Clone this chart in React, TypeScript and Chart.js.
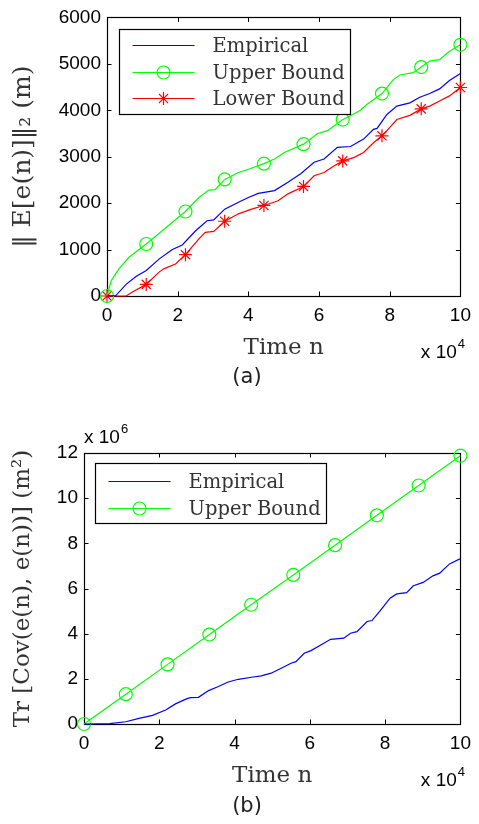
import React, { useEffect, useRef } from "react";
import { Chart, registerables } from "chart.js";

Chart.register(...registerables);

// ---------- shared ticks ----------
const xTicks = [0, 2, 4, 6, 8, 10];
const yTicksA = [0, 1000, 2000, 3000, 4000, 5000, 6000];
const yTicksB = [0, 2, 4, 6, 8, 10, 12];
const markerX = [0, 1.11, 2.22, 3.33, 4.44, 5.56, 6.67, 7.78, 8.89, 10];

// ---------- chart (a): ||E[e(n)]||_2 ----------
const empAX = [0, 0.25, 0.54, 0.82, 1.11, 1.48, 1.85, 2.13, 2.5, 2.83, 3.02, 3.33, 3.72, 4.0, 4.28, 4.74, 5.12, 5.49, 5.86, 6.14, 6.52, 6.89, 7.26, 7.54, 7.64, 7.92, 8.2, 8.57, 8.85, 9.13, 9.41, 9.69, 10];
const empAY = [0, 10, 250, 420, 550, 800, 1000, 1100, 1400, 1620, 1640, 1870, 2020, 2120, 2210, 2270, 2450, 2640, 2880, 2950, 3200, 3220, 3380, 3590, 3610, 3910, 4090, 4160, 4280, 4360, 4460, 4640, 4790];

const upAX = [0, 0.12, 0.35, 0.63, 0.87, 1.11, 1.57, 1.85, 2.22, 2.6, 2.88, 3.06, 3.33, 3.72, 4.0, 4.44, 4.74, 5.02, 5.56, 5.96, 6.24, 6.42, 6.67, 6.89, 7.17, 7.36, 7.78, 8.1, 8.29, 8.66, 8.89, 9.13, 9.41, 9.69, 10];
const upAY = [0, 330, 600, 840, 980, 1120, 1410, 1590, 1820, 2120, 2280, 2290, 2510, 2660, 2730, 2850, 2950, 3090, 3270, 3500, 3560, 3660, 3800, 3880, 4000, 4130, 4360, 4660, 4760, 4810, 4930, 5060, 5090, 5270, 5410];

const lowAX = [0, 0.54, 0.73, 1.11, 1.48, 1.62, 1.94, 2.22, 2.6, 2.78, 3.02, 3.33, 3.72, 4.09, 4.44, 4.84, 5.12, 5.56, 5.86, 6.14, 6.42, 6.67, 6.98, 7.26, 7.54, 7.78, 7.92, 8.2, 8.57, 8.89, 9.13, 9.41, 9.69, 10];
const lowAY = [0, 0, 90, 250, 520, 590, 690, 890, 1230, 1370, 1390, 1610, 1770, 1870, 1950, 2050, 2200, 2360, 2590, 2660, 2800, 2910, 2980, 3090, 3300, 3450, 3560, 3800, 3890, 4030, 4090, 4200, 4310, 4490];

// ---------- chart (b): Tr[Cov] (x 10^6) ----------
const empBX = [0, 0.68, 1.11, 1.46, 1.82, 2.17, 2.43, 2.69, 2.82, 3.04, 3.31, 3.57, 3.83, 4.1, 4.45, 4.71, 4.97, 5.24, 5.5, 5.63, 5.85, 6.03, 6.29, 6.55, 6.9, 7.08, 7.25, 7.52, 7.65, 7.87, 8.13, 8.31, 8.57, 8.75, 9.01, 9.27, 9.45, 9.71, 9.97, 10];
const empBY = [0, 0.02, 0.1, 0.25, 0.38, 0.62, 0.89, 1.09, 1.17, 1.18, 1.48, 1.66, 1.86, 1.98, 2.07, 2.13, 2.25, 2.47, 2.69, 2.76, 3.13, 3.25, 3.5, 3.75, 3.8, 4.02, 4.09, 4.54, 4.58, 5.02, 5.57, 5.76, 5.82, 6.12, 6.27, 6.56, 6.68, 7.09, 7.3, 7.3];

const upBX = [0, 1.11, 2.22, 3.33, 4.44, 5.56, 6.67, 7.78, 8.89, 10];
const upBY = [0, 1.32, 2.64, 3.96, 5.28, 6.6, 7.92, 9.24, 10.56, 11.88];

const labelsA = ["Empirical", "Upper Bound", "Lower Bound"];
const labelsB = ["Empirical", "Upper Bound"];

const BLUE = "#0000ff";
const GREEN = "#00ff00";
const RED = "#ff0000";
const TICK_FONT = "Liberation Sans";
const SERIF = "DejaVu Serif";
const TXT = "#333333";

const pts = (xs: number[], ys: number[]) => xs.map((x, i) => ({ x, y: ys[i] }));
const isMarker = (x: number) => markerX.some((m) => Math.abs(m - x) < 1e-6);

function series(label: string, xs: number[], ys: number[], color: string, style: any, withMarkers: boolean) {
  return {
    label,
    data: pts(xs, ys),
    borderColor: color,
    backgroundColor: "rgba(0,0,0,0)",
    borderWidth: 1.2,
    pointStyle: style,
    pointRadius: (ctx: any) => (withMarkers && ctx.raw && isMarker(ctx.raw.x) ? 6.5 : 0),
    pointBorderColor: color,
    pointBackgroundColor: "rgba(0,0,0,0)",
    pointBorderWidth: 1.2,
    tension: 0,
    clip: false,
  };
}

function drawMarker(ctx: CanvasRenderingContext2D, style: string | false, x: number, y: number, color: string) {
  if (!style) return;
  ctx.save();
  ctx.strokeStyle = color;
  ctx.lineWidth = 1.2;
  const r = 6.5;
  ctx.beginPath();
  if (style === "circle") {
    ctx.arc(x, y, r, 0, Math.PI * 2);
  } else if (style === "star") {
    for (let k = 0; k < 4; k++) {
      const a = (k * Math.PI) / 4;
      ctx.moveTo(x - r * Math.cos(a), y - r * Math.sin(a));
      ctx.lineTo(x + r * Math.cos(a), y + r * Math.sin(a));
    }
  }
  ctx.stroke();
  ctx.restore();
}

const framePlugin = {
  id: "matlabFrame",
  beforeDatasetsDraw(chart: any) {
    const { ctx, chartArea: a } = chart;
    ctx.save();
    ctx.strokeStyle = "#000";
    ctx.lineWidth = 1;
    const tl = 4.5;
    const xs = chart.scales.x;
    const ys = chart.scales.y;
    ctx.beginPath();
    xs.ticks.forEach((t: any) => {
      const px = Math.round(xs.getPixelForValue(t.value)) + 0.5;
      ctx.moveTo(px, a.bottom);
      ctx.lineTo(px, a.bottom - tl);
      ctx.moveTo(px, a.top);
      ctx.lineTo(px, a.top + tl);
    });
    ys.ticks.forEach((t: any) => {
      const py = Math.round(ys.getPixelForValue(t.value)) + 0.5;
      ctx.moveTo(a.left, py);
      ctx.lineTo(a.left + tl, py);
      ctx.moveTo(a.right, py);
      ctx.lineTo(a.right - tl, py);
    });
    ctx.stroke();
    ctx.lineWidth = 1.2;
    ctx.strokeRect(Math.round(a.left) + 0.5, Math.round(a.top) + 0.5, Math.round(a.right - a.left), Math.round(a.bottom - a.top));
    ctx.restore();
  },
  afterDatasetsDraw(chart: any, _args: any, opts: any) {
    const { ctx, chartArea: a } = chart;
    ctx.save();
    // legend
    const L = opts.legend;
    const bx = Math.round(a.left + L.dx) + 0.5;
    const by = Math.round(a.top + L.dy) + 0.5;
    ctx.fillStyle = "#fff";
    ctx.fillRect(bx, by, L.w, L.h);
    ctx.strokeStyle = "#000";
    ctx.lineWidth = 1.2;
    ctx.strokeRect(bx, by, L.w, L.h);
    chart.data.datasets.forEach((ds: any, i: number) => {
      const y = by + L.rows[i];
      ctx.strokeStyle = ds.borderColor;
      ctx.lineWidth = 1.2;
      ctx.beginPath();
      ctx.moveTo(bx + 13, y);
      ctx.lineTo(bx + 75, y);
      ctx.stroke();
      drawMarker(ctx, L.markers[i], bx + 44, y, ds.borderColor);
      ctx.fillStyle = TXT;
      ctx.font = `19.5px "${SERIF}"`;
      ctx.textAlign = "left";
      ctx.textBaseline = "middle";
      ctx.fillText(ds.label, bx + 93, y + 1);
    });

    // exponent labels
    ctx.fillStyle = "#000";
    ctx.textBaseline = "alphabetic";
    (opts.exps || []).forEach((e: any) => {
      const base = "x 10";
      ctx.font = `13px "${TICK_FONT}"`;
      const supW = ctx.measureText(e.sup).width;
      ctx.font = `19px "${TICK_FONT}"`;
      const baseW = ctx.measureText(base).width;
      const x0 = e.align === "right" ? e.x - supW - baseW : e.x;
      ctx.fillText(base, x0, e.y);
      ctx.font = `13px "${TICK_FONT}"`;
      ctx.fillText(e.sup, x0 + baseW + 1, e.y - 10);
    });

    // caption
    ctx.font = `21px "DejaVu Sans"`;
    ctx.fillStyle = "#222";
    ctx.textAlign = "center";
    ctx.textBaseline = "middle";
    ctx.fillText(opts.caption.text, opts.caption.x, opts.caption.y);
    ctx.restore();
  },
};

function makeConfig(p: any) {
  return {
    type: "line",
    data: { datasets: p.datasets },
    plugins: [framePlugin],
    options: {
      responsive: false,
      maintainAspectRatio: false,
      animation: false,
      events: [],
      layout: { padding: { left: 0, right: p.padRight, top: p.padTop, bottom: 0 } },
      plugins: {
        legend: { display: false },
        tooltip: { enabled: false },
        title: { display: false },
        matlabFrame: { legend: p.legend, exps: p.exps, caption: p.caption },
      },
      scales: {
        x: {
          type: "linear",
          min: 0,
          max: 10,
          afterBuildTicks: (s: any) => {
            s.ticks = xTicks.map((v) => ({ value: v }));
          },
          afterFit: (s: any) => {
            s.height = p.xHeight;
          },
          grid: { display: false, drawTicks: false },
          border: { display: false },
          ticks: {
            color: "#000",
            font: { family: TICK_FONT, size: 19 },
            padding: 8,
            maxRotation: 0,
            autoSkip: false,
            callback: (v: any) => String(v),
          },
          title: {
            display: true,
            text: "Time n",
            color: TXT,
            font: { family: SERIF, size: 23 },
            padding: { top: 0, bottom: p.xTitlePad },
          },
        },
        y: {
          type: "linear",
          min: p.yTicks[0],
          max: p.yTicks[p.yTicks.length - 1],
          afterBuildTicks: (s: any) => {
            s.ticks = p.yTicks.map((v: number) => ({ value: v }));
          },
          afterFit: (s: any) => {
            s.width = p.yWidth;
          },
          grid: { display: false, drawTicks: false },
          border: { display: false },
          ticks: {
            color: "#000",
            font: { family: TICK_FONT, size: 19 },
            padding: 6,
            autoSkip: false,
            callback: (v: any) => String(v),
          },
          title: {
            display: true,
            text: p.yTitle,
            color: TXT,
            font: { family: SERIF, size: p.yTitleSize },
            padding: { top: p.yTitlePad, bottom: 0 },
          },
        },
      },
    },
  };
}

function ChartCanvas({ config, width, height, top }: any) {
  const ref = useRef<HTMLCanvasElement | null>(null);
  useEffect(() => {
    if (!ref.current) return;
    const chart = new Chart(ref.current, config);
    return () => chart.destroy();
  }, []);
  return (
    <canvas
      ref={ref}
      width={width}
      height={height}
      style={{ position: "absolute", left: 0, top, width, height, display: "block" }}
    />
  );
}

export default function App() {
  const cfgA = makeConfig({
    datasets: [
      series(labelsA[0], empAX, empAY, BLUE, false, false),
      series(labelsA[1], upAX, upAY, GREEN, "circle", true),
      series(labelsA[2], lowAX, lowAY, RED, "star", true),
    ],
    padRight: 15,
    padTop: 16,
    xHeight: 104,
    yWidth: 107,
    xTitlePad: 38,
    yTicks: yTicksA,
    yTitle: "‖ E[e(n)]‖₂ (m)",
    yTitleSize: 25,
    yTitlePad: 8,
    legend: { dx: 12, dy: 12, w: 231, h: 85, rows: [16, 43, 69], markers: [false, "circle", "star"] },
    exps: [{ x: 464, y: 358, sup: "4", align: "right" }],
    caption: { text: "(a)", x: 247, y: 378 },
  });
  const cfgB = makeConfig({
    datasets: [
      series(labelsB[0], empBX, empBY, BLUE, false, false),
      series(labelsB[1], upBX, upBY, GREEN, "circle", true),
    ],
    padRight: 15,
    padTop: 53,
    xHeight: 100,
    yWidth: 84,
    xTitlePad: 34,
    yTicks: yTicksB,
    yTitle: "Tr [Cov(e(n), e(n))] (m²)",
    yTitleSize: 23,
    yTitlePad: 9,
    legend: { dx: 11, dy: 10, w: 231, h: 60, rows: [18, 45], markers: [false, "circle"] },
    exps: [
      { x: 464, y: 386, sup: "4", align: "right" },
      { x: 84, y: 43, sup: "6", align: "left" },
    ],
    caption: { text: "(b)", x: 247, y: 407 },
  });
  return (
    <div style={{ position: "absolute", left: 0, top: 0, width: 479, height: 824, background: "#fff" }}>
      <ChartCanvas config={cfgA} width={479} height={400} top={0} />
      <ChartCanvas config={cfgB} width={479} height={424} top={400} />
    </div>
  );
}
